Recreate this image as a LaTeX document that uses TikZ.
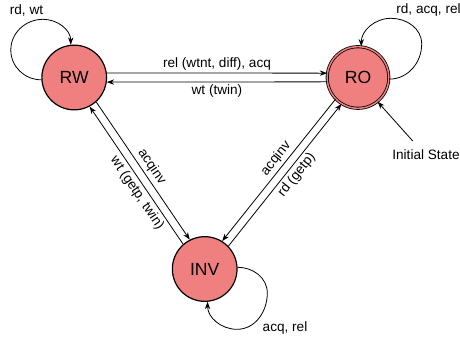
\documentclass[tikz,border=0pt]{standalone}
\usepackage{fontspec}
\setmainfont{Liberation Sans}
\usetikzlibrary{arrows.meta}
\definecolor{statefill}{RGB}{240,128,128}
\begin{document}
\begin{tikzpicture}[x=0.75pt,y=0.75pt,
  state/.style={circle,draw,line width=0.9pt,fill=statefill,minimum size=48.5pt,
    inner sep=0pt,font=\fontsize{13.2}{15}\selectfont},
  startstate/.style={state,line width=0.6pt,double=statefill,double distance=1.1pt,minimum size=46.2pt},
  arr/.style={line width=0.6pt,-{Stealth[length=5.5pt,width=4pt]}},
  rarr/.style={line width=0.6pt,{Stealth[length=5.5pt,width=4pt]}-},
  lbl/.style={font=\fontsize{10.2}{12}\selectfont,inner sep=2pt}]
\useasboundingbox (0,0) rectangle (460,-339);

% states
\node[state] (RW) at (74.2,-77.5) {RW};
\node[startstate] (RO) at (358,-77.5) {RO};
\node[state] (INV) at (204.7,-269) {INV};

% RW <-> RO
\draw[arr] (RW.8) -- node[lbl,above] {rel (wtnt, diff), acq} (RO.172);
\draw[rarr] (RW.352) -- node[lbl,below] {wt (twin)} (RO.188);

% RW <-> INV
\draw[arr] (RW.-48.6) -- node[lbl,sloped,above,pos=0.51] {acqinv} (INV.117.4);
\draw[rarr] (RW.-62.6) -- node[lbl,sloped,below,pos=0.59] {wt (getp, twin)} (INV.131.4);

% INV <-> RO
\draw[rarr] (INV.58.4) -- node[lbl,sloped,above,pos=0.54] {acqinv} (RO.224.4);
\draw[arr] (INV.44.4) -- node[lbl,sloped,below,pos=0.54] {rd (getp)} (RO.238.4);

% self loops
\draw[arr] (RW.184) to[out=180,in=-90] (10.8,-50) to[out=90,in=180] (43,-19.3)
  to[out=0,in=90] (RW.96);
\node[lbl,inner sep=0pt] (lRW) at (26.5,-10) {rd, wt};

\draw[arr] (RO.357) to[out=0,in=-90] (421.7,-44) to[out=90,in=0] (391,-18.3)
  to[out=180,in=90] (RO.84);
\node[lbl,inner sep=0pt] (lRO) at (428.5,-10) {rd, acq, rel};

\draw[arr] (INV.3) to[out=0,in=90] (267.3,-293) to[out=-90,in=0] (237,-329.3)
  to[out=180,in=-90] (INV.275);
\node[lbl,inner sep=0pt] (lINV) at (285,-328) {acq, rel};

% initial state marker
\node[lbl,inner sep=0pt] (init) at (426,-155) {Initial State};
\coordinate (initfrom) at (412.7,-141);
\draw[arr] (initfrom) -- (RO.-51);
\end{tikzpicture}
\end{document}
